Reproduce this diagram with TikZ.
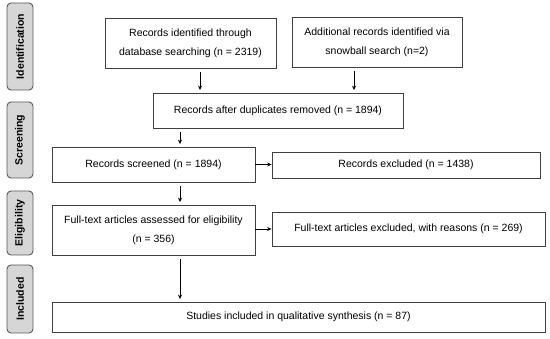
\documentclass[tikz,border=0pt]{standalone}
\usepackage{fontspec}
\setmainfont{Liberation Sans}
\usetikzlibrary{arrows.meta}
\begin{document}
\begin{tikzpicture}[x=1pt,y=-1pt,
 box/.style={draw=black!75, line width=0.8pt, align=center, inner sep=0pt,
   font=\fontsize{10.5}{19}\selectfont},
 phase/.style={draw=black!65, fill=black!16, rounded corners=4pt, line width=0.9pt,
   font=\bfseries\fontsize{10.5}{12}\selectfont, rotate=90, inner sep=0pt},
 arr/.style={-{Stealth[length=4.5pt,width=4pt]}, line width=0.7pt, shorten <=4pt, shorten >=2.5pt}]
\useasboundingbox (0,0) rectangle (550,339);
% phase labels
\node[phase, minimum width=87pt, minimum height=26pt] (pid) at (20,46.5) {Identification};
\node[phase, minimum width=76pt, minimum height=26pt] (psc) at (20,140) {Screening};
\node[phase, minimum width=64pt, minimum height=26pt] (pel) at (20,223) {Eligibility};
\node[phase, minimum width=68pt, minimum height=26pt] (pin) at (20,299) {Included};
% boxes
\node[box, minimum width=171pt, minimum height=50pt] (b1) at (190.5,43) {Records identified through\\database searching (n = 2319)};
\node[box, minimum width=170pt, minimum height=50pt] (b2) at (377,42) {Additional records identified via\\snowball search (n=2)};
\node[box, minimum width=250pt, minimum height=35pt] (b3) at (278,110.5) {Records after duplicates removed (n = 1894)};
\node[box, minimum width=203pt, minimum height=35pt] (b4) at (153.5,164.5) {Records screened (n = 1894)};
\node[box, minimum width=268pt, minimum height=26pt] (b5) at (406,165) {Records excluded (n = 1438)};
\node[box, minimum width=203pt, minimum height=50pt] (b6) at (153.5,230) {Full-text articles assessed for eligibility\\(n = 356)};
\node[box, minimum width=273pt, minimum height=34pt] (b7) at (408.5,229) {Full-text articles excluded, with reasons (n = 269)};
\node[box, minimum width=493pt, minimum height=30pt] (b8) at (298.5,317) {Studies included in qualitative synthesis (n = 87)};
% arrows
\draw[arr] ([xshift=9.5pt]b1.south) -- ([xshift=9.5pt]b1.south |- b3.north);
\draw[arr] ([xshift=-23pt]b2.south) -- ([xshift=-23pt]b2.south |- b3.north);
\draw[arr] ([xshift=-98pt]b3.south) -- ([xshift=-98pt]b3.south |- b4.north);
\draw[arr, shorten <=0pt, shorten >=0pt] (b4.east) -- (b4.east -| b5.west);
\draw[arr] ([xshift=26.5pt]b4.south) -- ([xshift=26.5pt]b4.south |- b6.north);
\draw[arr, shorten <=0pt, shorten >=0pt] (b6.east |- b7.west) -- (b7.west);
\draw[arr] ([xshift=26.5pt]b6.south) -- ([xshift=26.5pt]b6.south |- b8.north);
\end{tikzpicture}
\end{document}
